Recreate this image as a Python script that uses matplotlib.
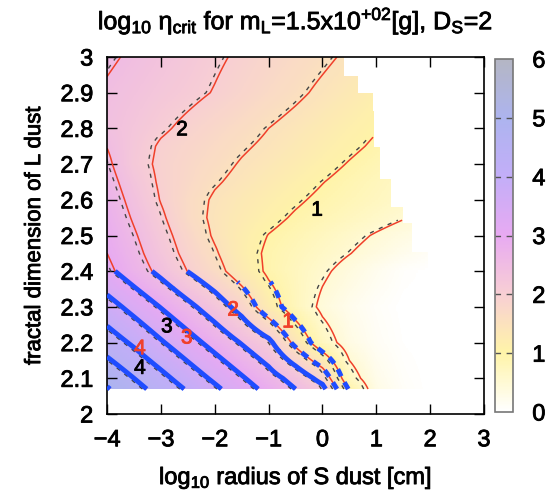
import numpy as np
import matplotlib.pyplot as plt
import matplotlib.patheffects as pe
from matplotlib.colors import LinearSegmentedColormap

plt.rcParams['font.family'] = ['Liberation Sans', 'DejaVu Sans']
plt.rcParams['mathtext.fontset'] = 'custom'
plt.rcParams['mathtext.rm'] = 'Liberation Sans'
plt.rcParams['mathtext.it'] = 'Liberation Sans'

# grid nodes (log10 radius of S dust, fractal dimension of L dust)
x_nodes = [-4.0, -3.5, -3.0, -2.5, -2.0, -1.5, -1.0, -0.5, 0.0, 0.5, 1.0, 1.5, 2.0]
y_nodes = [2.07, 2.1, 2.2, 2.3, 2.4, 2.45, 2.5, 2.55, 2.6, 2.65, 2.7, 2.75, 2.8, 2.9, 3.0]

# log10 eta_crit, one row per y node
z_207 = [5.04, 4.67, 4.31, 3.95, 3.59, 3.22, 2.86, 2.50, 2.14, 0.95, 0.30, 0.08, 0.00]
z_210 = [4.86, 4.50, 4.14, 3.77, 3.41, 3.05, 2.69, 2.33, 1.83, 0.68, 0.25, 0.06, 0.00]
z_220 = [4.26, 3.92, 3.55, 3.19, 2.83, 2.47, 2.11, 1.38, 0.71, 0.32, 0.12, 0.02, 0.00]
z_230 = [3.70, 3.34, 2.98, 2.62, 2.25, 1.83, 1.22, 0.77, 0.42, 0.22, 0.08, 0.00, 0.00]
z_240 = [3.11, 2.74, 2.38, 1.99, 1.66, 1.27, 0.93, 0.74, 0.56, 0.38, 0.20, 0.05, 0.00]
z_245 = [3.00, 2.64, 2.25, 1.87, 1.55, 1.19, 0.93, 0.79, 0.65, 0.51, 0.37, 0.22, 0.10]
z_250 = [2.92, 2.55, 2.16, 1.79, 1.45, 1.20, 0.99, 0.86, 0.73, 0.60, 0.47, 0.35, 0.25]
z_255 = [2.84, 2.45, 2.07, 1.69, 1.42, 1.26, 1.10, 0.96, 0.85, 0.74, 0.63, 0.52, 0.41]
z_260 = [2.76, 2.36, 1.98, 1.68, 1.45, 1.31, 1.18, 1.05, 0.93, 0.83, 0.73, 0.62, 0.52]
z_265 = [2.67, 2.27, 1.94, 1.74, 1.54, 1.40, 1.27, 1.14, 1.01, 0.89, 0.78, 0.67, 0.57]
z_270 = [2.58, 2.17, 1.92, 1.77, 1.62, 1.47, 1.35, 1.23, 1.11, 0.98, 0.86, 0.74, 0.64]
z_275 = [2.49, 2.20, 1.95, 1.82, 1.69, 1.55, 1.43, 1.31, 1.19, 1.07, 0.95, 0.83, 0.72]
z_280 = [2.40, 2.24, 2.06, 1.91, 1.77, 1.64, 1.50, 1.38, 1.26, 1.14, 1.02, 0.90, 0.80]
z_290 = [2.45, 2.33, 2.21, 2.10, 1.98, 1.84, 1.70, 1.57, 1.43, 1.30, 1.16, 1.05, 0.95]
z_300 = [2.56, 2.44, 2.31, 2.19, 2.06, 1.94, 1.81, 1.69, 1.57, 1.44, 1.32, 1.20, 1.10]

# right edge of the computed region (staircase), from the top down
edge_y = [2.95, 2.90, 2.85, 2.75, 2.66, 2.58, 2.535, 2.45, 2.0]
edge_x = [0.38, 0.66, 0.92, 0.95, 1.05, 1.25, 1.49, 1.66, 1.95]

levels = [0.5, 1, 1.5, 2, 2.5, 3, 3.5, 4, 4.5, 5]
blue_levels = [2, 2.5, 3, 3.5, 4, 4.5, 5]
blue_dot_levels = [1, 1.5]
fit_shift = 0.08

black_lab = ['1', '2', '3', '4']
black_lab_x = [-0.10, -2.61, -2.89, -3.39]
black_lab_y = [2.571, 2.796, 2.244, 2.128]
red_lab = ['1', '2', '3', '4']
red_lab_x = [-0.64, -1.66, -2.52, -3.39]
red_lab_y = [2.258, 2.291, 2.213, 2.183]

pal = ['#ffffff', '#fff4a8', '#f8cfd4', '#e8aaf2', '#c3aef8', '#adb4ef', '#b4b6c4']

# --- bilinear refinement of the grid
Z = np.array([z_207, z_210, z_220, z_230, z_240, z_245, z_250, z_255,
              z_260, z_265, z_270, z_275, z_280, z_290, z_300])
xf = np.linspace(-4, 2, 601)
yf = np.linspace(2.07, 3.0, 187)
tmp = np.array([np.interp(xf, x_nodes, row) for row in Z])
Zf = np.array([np.interp(yf, y_nodes, tmp[:, j]) for j in range(len(xf))]).T

xmax = np.select([yf >= e for e in edge_y], edge_x)
XF, YF = np.meshgrid(xf, yf)
Zf[XF > xmax[:, None]] = np.nan
Zm = np.ma.masked_invalid(Zf)

cmap = LinearSegmentedColormap.from_list('eta', pal)

fig = plt.figure(figsize=(5.55, 5.0), dpi=100)
ax = fig.add_axes([0.193, 0.172, 0.679, 0.714])

im = ax.imshow(Zm, extent=[xf[0], xf[-1], yf[0], yf[-1]], origin='lower',
               cmap=cmap, vmin=0, vmax=6, aspect='auto', interpolation='nearest')

ax.contour(xf, yf, Zm, levels=levels, colors='#f0402a', linewidths=1.1, zorder=2)
ax.contour(xf - fit_shift, yf, Zm, levels=levels, colors='#444444',
           linewidths=1.0, linestyles=[(0, (3, 4))], zorder=2.5)

Zb = np.ma.masked_where(YF > 2.403, Zm)
ax.contour(xf, yf, Zb, levels=blue_levels, colors='#1f4cff', linewidths=3.5, zorder=3)
Zd = np.ma.masked_where(YF > 2.37, Zm)
ax.contour(xf, yf, Zd, levels=blue_dot_levels, colors='#1f4cff', linewidths=3.5,
           linestyles=[(0, (1.6, 1.4))], zorder=3)

bold = [pe.withStroke(linewidth=0.6, foreground='black')]

for t, lx, ly in zip(black_lab, black_lab_x, black_lab_y):
    ax.text(lx, ly, t, color='black', fontsize=15, ha='center', va='center', zorder=4,
            path_effects=bold)
for t, lx, ly in zip(red_lab, red_lab_x, red_lab_y):
    ax.text(lx, ly, t, color='#f0402a', fontsize=15, ha='center', va='center', zorder=4,
            path_effects=[pe.withStroke(linewidth=0.6, foreground='#f0402a')])

ax.set_xlim(-4, 3)
ax.set_ylim(2, 3)
ax.set_xticks(range(-4, 4))
yt = [2 + i / 10 for i in range(11)]
ax.set_yticks(yt)
ax.set_yticklabels(['2', '2.1', '2.2', '2.3', '2.4', '2.5', '2.6', '2.7', '2.8', '2.9', '3'])
ax.tick_params(direction='in', length=7, width=1, top=True, right=True, labelsize=17)
ax.tick_params(axis='x', pad=11)
ax.tick_params(axis='y', pad=10)
for s in ax.spines.values():
    s.set_linewidth(1.2)

ax.set_xlabel(r'log$_{10}$ radius of S dust [cm]', fontsize=17, labelpad=10)
ax.set_ylabel('fractal dimension of L dust', fontsize=16, labelpad=11)
ax.set_title(r'log$_{10}$ $\mathregular{\eta_{crit}}$ for m$_{L}$=1.5x10$^{+02}$[g], D$_{S}$=2',
             fontsize=18, pad=20)

cax = fig.add_axes([0.892, 0.176, 0.032, 0.706])
cb = fig.colorbar(im, cax=cax, ticks=range(7))
cb.outline.set_edgecolor('#777777')
cb.outline.set_linewidth(1.2)
cax.tick_params(length=0, labelsize=17, pad=14)
for v in range(1, 6):
    cax.axhline(v, color='#555555', lw=1, ls=(0, (4, 4)))

texts = ax.get_xticklabels() + ax.get_yticklabels() + cax.get_yticklabels()
texts += [ax.xaxis.label, ax.yaxis.label, ax.title]
for t in texts:
    t.set_path_effects(bold)

fig.savefig('out.png', dpi=100)
